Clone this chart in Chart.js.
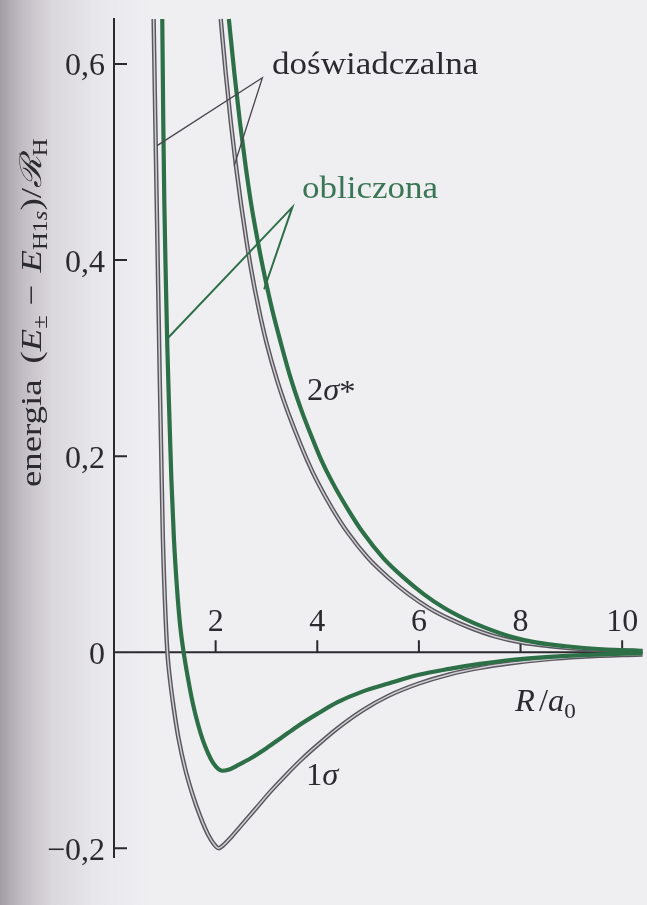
<!DOCTYPE html>
<html><head><meta charset="utf-8">
<script src="https://cdn.jsdelivr.net/npm/chart.js@4.4.1/dist/chart.umd.min.js"></script>
<style>html,body{margin:0;padding:0;background:#eeeef1;overflow:hidden}canvas{display:block}</style>
</head><body>
<canvas id="c" width="647" height="905"></canvas>
<script>
// ---- tick labels ----
const xTicks = [2, 4, 6, 8, 10];
const xTickLabels = ['2', '4', '6', '8', '10'];
const yTicks = [-0.2, 0, 0.2, 0.4, 0.6];
const yTickLabels = ['\u22120,2', '0', '0,2', '0,4', '0,6'];

// ---- experimental (doświadczalna) 1σ ----
const expBondR = [0.78,0.81,0.84,0.87,0.90,0.93,0.96,1.00,1.05,1.10,1.17,1.27,1.40,1.55,1.70,1.85,1.97,2.06,2.15,2.30,2.50,2.80,3.10,3.40,3.70,4.00,4.40,4.90,5.40,6.00,6.60,7.20,7.80,8.50,9.20,10.00,10.40];
const expBondE = [0.646,0.55,0.46,0.37,0.28,0.20,0.12,0.055,0.0,-0.027,-0.055,-0.088,-0.119,-0.146,-0.168,-0.186,-0.196,-0.200,-0.197,-0.189,-0.177,-0.159,-0.141,-0.1245,-0.109,-0.095,-0.0776,-0.0591,-0.0446,-0.032,-0.0227,-0.0161,-0.0114,-0.0074,-0.0048,-0.003,-0.0025];

// ---- calculated (obliczona) 1σ ----
const calcBondR = [0.95,0.97,0.99,1.02,1.05,1.09,1.13,1.18,1.24,1.30,1.37,1.45,1.55,1.65,1.75,1.85,1.95,2.05,2.13,2.25,2.45,2.70,3.00,3.30,3.60,4.00,4.40,4.90,5.40,6.00,6.60,7.20,7.80,8.50,9.20,10.00,10.40];
const calcBondE = [0.646,0.54,0.46,0.38,0.31,0.24,0.175,0.115,0.065,0.028,0.0,-0.025,-0.052,-0.073,-0.090,-0.103,-0.113,-0.119,-0.121,-0.120,-0.115,-0.108,-0.098,-0.087,-0.076,-0.063,-0.051,-0.040,-0.032,-0.023,-0.017,-0.012,-0.008,-0.005,-0.003,-0.0015,-0.001];

// ---- experimental (doświadczalna) 2σ* ----
const expAntiR = [2.10,2.20,2.30,2.40,2.50,2.60,2.70,2.85,3.00,3.20,3.40,3.60,3.80,4.00,4.30,4.60,5.00,5.40,5.80,6.20,6.60,7.00,7.50,8.00,8.60,9.30,10.00,10.40];
const expAntiE = [0.646,0.590,0.540,0.496,0.457,0.422,0.390,0.350,0.316,0.279,0.248,0.221,0.196,0.174,0.146,0.122,0.096,0.076,0.059,0.045,0.034,0.025,0.016,0.010,0.006,0.003,0.0015,0.001];

// ---- calculated (obliczona) 2σ* ----
const calcAntiR = [2.26,2.37,2.48,2.59,2.70,2.82,2.94,3.11,3.28,3.48,3.68,3.88,4.08,4.29,4.60,4.90,5.30,5.70,6.10,6.50,6.90,7.30,7.80,8.30,8.90,9.60,10.20,10.40];
const calcAntiE = [0.646,0.590,0.540,0.496,0.457,0.422,0.390,0.350,0.316,0.279,0.248,0.221,0.196,0.174,0.146,0.122,0.096,0.076,0.059,0.045,0.034,0.025,0.016,0.010,0.006,0.003,0.0018,0.0013];

const pts = (r, e) => r.map((v, i) => ({x: v, y: e[i]}));

const GRAY_DARK = '#5a585e';
const GRAY_LIGHT = '#cfced3';
const GREEN = '#2d6f47';
const GREEN_TEXT = '#3a7655';
const INK = '#2b2a2e';
const SERIF = '"Liberation Serif", "Times New Roman", serif';

function grayDs(r, e) {
  return [
    {data: pts(r, e), order: 3, borderColor: GRAY_DARK, borderWidth: 4.4, pointRadius: 0, cubicInterpolationMode: 'monotone', fill: false},
    {data: pts(r, e), order: 2, borderColor: GRAY_LIGHT, borderWidth: 1.5, pointRadius: 0, cubicInterpolationMode: 'monotone', fill: false}
  ];
}
function greenDs(r, e) {
  return {data: pts(r, e), order: 1, borderColor: GREEN, borderWidth: 4.2, pointRadius: 0, cubicInterpolationMode: 'monotone', fill: false};
}

// annotation positions in data coordinates
const leaders = [
  {color: '#48474c', width: 1.3, pts: [[0.856, 0.517], [2.92, 0.586], [2.37, 0.497]]},
  {color: GREEN, width: 2, pts: [[1.07, 0.321], [3.51, 0.454], [2.96, 0.371]]}
];

const bgPlugin = {
  id: 'bg',
  beforeDraw(chart) {
    const ctx = chart.ctx, w = chart.width, h = chart.height;
    const g = ctx.createLinearGradient(0, 0, 150, 0);
    g.addColorStop(0, '#a39ca5');
    g.addColorStop(0.15, '#c2bdc4');
    g.addColorStop(0.35, '#dad7dd');
    g.addColorStop(0.65, '#e8e7ec');
    g.addColorStop(1, '#efeff2');
    ctx.save();
    ctx.fillStyle = '#efeff2';
    ctx.fillRect(0, 0, w, h);
    ctx.fillStyle = g;
    ctx.fillRect(0, 0, 150, h);
    ctx.restore();
  }
};

const axesPlugin = {
  id: 'axes',
  beforeDatasetsDraw(chart) {
    const ctx = chart.ctx, xs = chart.scales.x, ys = chart.scales.y;
    const x0 = xs.getPixelForValue(0), y0 = ys.getPixelForValue(0);
    const top = ys.getPixelForValue(ys.max), bot = ys.getPixelForValue(ys.min);
    const right = xs.getPixelForValue(xs.max);
    ctx.save();
    ctx.strokeStyle = INK;
    ctx.lineWidth = 2;
    ctx.beginPath();
    ctx.moveTo(x0, top); ctx.lineTo(x0, bot);
    ctx.moveTo(x0, y0); ctx.lineTo(right, y0);
    yTicks.forEach(v => { const y = ys.getPixelForValue(v); ctx.moveTo(x0, y); ctx.lineTo(x0 + 13, y); });
    xTicks.forEach(v => { const x = xs.getPixelForValue(v); ctx.moveTo(x, y0); ctx.lineTo(x, y0 - 12); });
    ctx.stroke();
    ctx.fillStyle = INK;
    ctx.font = '32px ' + SERIF;
    ctx.textAlign = 'right';
    ctx.textBaseline = 'middle';
    yTicks.forEach((v, i) => ctx.fillText(yTickLabels[i], x0 - 9, ys.getPixelForValue(v) + 3));
    ctx.textAlign = 'center';
    ctx.textBaseline = 'alphabetic';
    xTicks.forEach((v, i) => ctx.fillText(xTickLabels[i], xs.getPixelForValue(v), y0 - 21));
    ctx.restore();
  }
};

function runs(ctx, x, y, parts, sx) {
  let cx = x;
  parts.forEach(p => {
    ctx.font = p.f;
    ctx.fillStyle = p.c || INK;
    const w = ctx.measureText(p.t).width * sx;
    ctx.save();
    ctx.translate(cx, y + (p.dy || 0));
    ctx.scale(sx, 1);
    ctx.fillText(p.t, 0, 0);
    ctx.restore();
    cx += w + (p.gap || 0);
  });
  return cx;
}

const notePlugin = {
  id: 'notes',
  afterDatasetsDraw(chart) {
    const ctx = chart.ctx, xs = chart.scales.x, ys = chart.scales.y;
    ctx.save();
    ctx.lineCap = 'round';
    leaders.forEach(l => {
      ctx.strokeStyle = l.color; ctx.lineWidth = l.width;
      ctx.beginPath();
      l.pts.forEach((p, i) => {
        const X = xs.getPixelForValue(p[0]), Y = ys.getPixelForValue(p[1]);
        if (i === 0) ctx.moveTo(X, Y); else ctx.lineTo(X, Y);
      });
      ctx.stroke();
    });
    ctx.textAlign = 'left';
    ctx.textBaseline = 'alphabetic';
    const F = 31;
    runs(ctx, 272, 74, [{t: 'doświadczalna', f: F + 'px ' + SERIF}], 1.13);
    runs(ctx, 302, 198, [{t: 'obliczona', f: F + 'px ' + SERIF, c: GREEN_TEXT}], 1.13);
    runs(ctx, 307, 400, [{t: '2', f: F + 'px ' + SERIF}, {t: 'σ', f: 'italic ' + F + 'px ' + SERIF}, {t: '*', f: F + 'px ' + SERIF, dy: 2}], 1.05);
    runs(ctx, 306, 785, [{t: '1', f: F + 'px ' + SERIF}, {t: 'σ', f: 'italic ' + F + 'px ' + SERIF}], 1.05);
    runs(ctx, 515, 711, [{t: 'R', f: 'italic ' + F + 'px ' + SERIF, gap: 4}, {t: '/', f: F + 'px ' + SERIF}, {t: 'a', f: 'italic ' + F + 'px ' + SERIF}, {t: '0', f: '22px ' + SERIF, dy: 7}], 1.05);

    // rotated y-axis title
    ctx.translate(41, 487);
    ctx.rotate(-Math.PI / 2);
    const B = 30, S = 20;
    const title = [
      {t: 'energia', f: B + 'px ' + SERIF, gap: 16},
      {t: '(', f: B + 'px ' + SERIF},
      {t: 'E', f: 'italic ' + B + 'px ' + SERIF},
      {t: '±', f: S + 'px ' + SERIF, dy: 6, gap: 10},
      {t: '−', f: B + 'px ' + SERIF, gap: 12},
      {t: 'E', f: 'italic ' + B + 'px ' + SERIF},
      {t: 'H1', f: S + 'px ' + SERIF, dy: 6},
      {t: 's', f: 'italic ' + S + 'px ' + SERIF, dy: 6},
      {t: ')/', f: B + 'px ' + SERIF},
      {t: 'ℛ', f: 'italic ' + B + 'px ' + SERIF},
      {t: 'H', f: S + 'px ' + SERIF, dy: 6}
    ];
    let W = 0;
    title.forEach(p => { ctx.font = p.f; W += ctx.measureText(p.t).width + (p.gap || 0); });
    runs(ctx, 0, 0, title, 357 / W);
    ctx.restore();
  }
};

new Chart(document.getElementById('c'), {
  type: 'line',
  data: {
    datasets: [
      ...grayDs(expBondR, expBondE),
      ...grayDs(expAntiR, expAntiE),
      greenDs(calcBondR, calcBondE),
      greenDs(calcAntiR, calcAntiE)
    ]
  },
  options: {
    responsive: false,
    animation: false,
    events: [],
    layout: {padding: {left: 114, right: 4, top: 18, bottom: 47}},
    plugins: {legend: {display: false}, tooltip: {enabled: false}},
    scales: {
      x: {type: 'linear', min: 0, max: 10.41, display: false},
      y: {type: 'linear', min: -0.21, max: 0.647, display: false}
    }
  },
  plugins: [bgPlugin, axesPlugin, notePlugin]
});
</script>
</body></html>
